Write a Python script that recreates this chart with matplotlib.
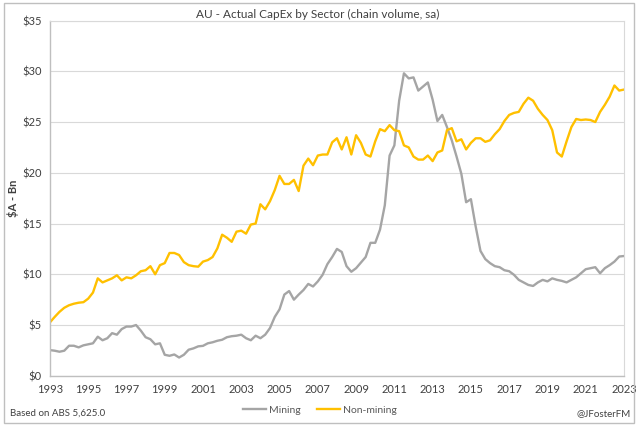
import matplotlib
matplotlib.use("Agg")
import matplotlib.pyplot as plt
import numpy as np
from matplotlib.patches import Rectangle

# quarterly data, 1993 onwards ($A bn, chain volume, sa)
mining = [2.53, 2.47, 2.37, 2.47, 2.96, 2.96, 2.8, 3.0, 3.1, 3.2, 3.85, 3.5, 3.7, 4.2, 4.05, 4.6,
          4.85, 4.85, 5.0, 4.45, 3.8, 3.6, 3.1, 3.2, 2.07, 1.97, 2.1, 1.8, 2.07, 2.57, 2.7,
          2.9, 2.95, 3.2, 3.3, 3.45, 3.55, 3.8, 3.9, 3.95, 4.05, 3.7, 3.5, 3.95, 3.7, 4.05,
          4.7, 5.8, 6.55, 8.0, 8.35, 7.5, 8.0, 8.45, 9.05, 8.8, 9.3, 9.95, 11.0, 11.7, 12.5,
          12.2, 10.8, 10.25, 10.6, 11.15, 11.7, 13.1, 13.1, 14.4, 16.8, 21.7, 22.7, 27.1, 29.8,
          29.3, 29.4, 28.1, 28.5, 28.9, 27.2, 25.1, 25.7, 24.5, 23.2, 21.6, 19.9, 17.1, 17.4,
          14.7, 12.3, 11.5, 11.1, 10.8, 10.7, 10.4, 10.3, 9.95, 9.45, 9.2, 8.95, 8.85, 9.2,
          9.45, 9.3, 9.6, 9.45, 9.35, 9.2, 9.45, 9.7, 10.1, 10.5, 10.6, 10.7, 10.1, 10.6,
          10.9, 11.25, 11.75, 11.8]
non_mining = [5.26, 5.8, 6.3, 6.7, 6.95, 7.1, 7.2, 7.25, 7.6, 8.2, 9.6, 9.2, 9.4, 9.6, 9.9, 9.4,
              9.7, 9.6, 9.9, 10.3, 10.4, 10.8, 10.0, 10.9, 11.1, 12.1, 12.1, 11.9, 11.2, 10.9, 10.8,
              10.75, 11.25, 11.4, 11.7, 12.55, 13.9, 13.6, 13.2, 14.2, 14.3, 14.0, 14.9, 15.0, 16.9,
              16.4, 17.2, 18.3, 19.7, 18.9, 18.9, 19.3, 18.2, 20.7, 21.4, 20.75, 21.7, 21.8, 21.8,
              23.0, 23.4, 22.3, 23.5, 21.8, 23.7, 22.95, 21.8, 21.6, 23.1, 24.3, 24.1, 24.7, 24.2,
              24.1, 22.7, 22.5, 21.6, 21.3, 21.3, 21.7, 21.15, 22.0, 22.2, 24.2, 24.4, 23.1, 23.3,
              22.3, 22.95, 23.4, 23.4, 23.05, 23.2, 23.8, 24.3, 25.1, 25.7, 25.9, 26.0, 26.8, 27.4,
              27.1, 26.3, 25.7, 25.2, 24.2, 22.0, 21.6, 23.1, 24.5, 25.3, 25.2, 25.25, 25.2, 25.0,
              26.0, 26.7, 27.5, 28.6, 28.1, 28.2]
year_labels = [str(y) for y in range(1993, 2024, 2)]
y_ticks = [0, 5, 10, 15, 20, 25, 30, 35]

quarters = 1993 + np.arange(len(mining)) / 4

plt.rcParams['font.family'] = ['Lato', 'DejaVu Sans']

fig = plt.figure(figsize=(6.4, 4.28), dpi=100)
ax = fig.add_axes([0.078, 0.122, 0.897, 0.83])

ax.plot(quarters, mining, color='#a5a5a5', lw=1.7, label='Mining')
ax.plot(quarters, non_mining, color='#ffc000', lw=1.7, label='Non-mining')

ax.set_xlim(1993, 2023)
ax.set_ylim(0, 35)
ax.set_xticks([int(s) for s in year_labels])
ax.set_xticklabels(year_labels, fontsize=8)
ax.set_yticks(y_ticks)
ax.set_yticklabels(['$' + str(v) for v in y_ticks], fontsize=8)
ax.tick_params(length=0, pad=6, colors='#404040')
ax.grid(axis='y', color='#d9d9d9', lw=0.8)
ax.set_axisbelow(True)
for s in ['top', 'right']:
    ax.spines[s].set_color('#d9d9d9')
for s in ['left', 'bottom']:
    ax.spines[s].set_color('#bfbfbf')
    ax.spines[s].set_linewidth(1.0)

ax.set_ylabel('$A - Bn', fontsize=8, fontweight='bold', color='#404040', va='center')
ax.yaxis.set_label_coords(-0.064, 0.5)
fig.text(0.497, 0.966, 'AU - Actual CapEx by Sector (chain volume, sa)', ha='center', va='center',
         fontsize=8.5, color='#404040')

fig.legend(loc='center', bbox_to_anchor=(0.5, 0.042), ncol=2, frameon=False, fontsize=7.5,
           handlelength=2.2, handletextpad=0.3, columnspacing=1.5, labelcolor='#595959')
fig.text(0.016, 0.034, 'Based on ABS 5,625.0', fontsize=7, color='#404040', va='center')
fig.text(0.985, 0.034, '@JFosterFM', fontsize=7, color='#404040', va='center', ha='right')

fig.patches.append(Rectangle((0.006, 0.012), 0.985, 0.98, transform=fig.transFigure,
                             fill=False, edgecolor='#bfbfbf', lw=1.0))

fig.savefig('out.png', dpi=100)
